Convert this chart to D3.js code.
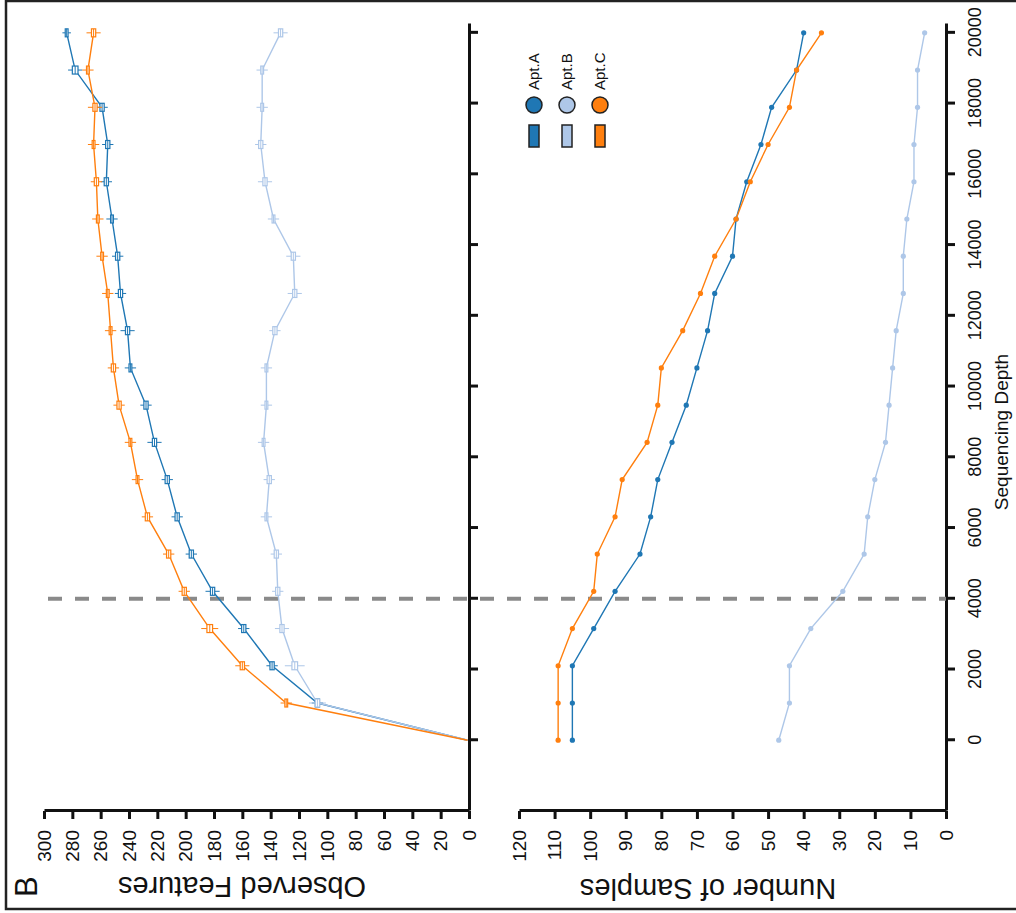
<!DOCTYPE html>
<html>
<head>
<meta charset="UTF-8">
<title>Rarefaction</title>
<script src="https://d3js.org/d3.v7.min.js"></script>
<style>
  body { margin: 0; background: #fff; }
  text { font-family: "Liberation Sans", Arial, sans-serif; fill: #111; }
</style>
</head>
<body>
<svg width="1016" height="913"></svg>
<script>
// sequencing depths (rarefaction steps)
var depths = [1, 1053, 2106, 3158, 4211, 5264, 6316, 7369, 8422, 9474, 10527,
              11580, 12632, 13685, 14737, 15790, 16843, 17895, 18948, 20000];
var groups = ['Apt.A', 'Apt.B', 'Apt.C'];
var colors = ['#1f77b4', '#aec7e8', '#ff7f0e'];

// observed features (median) per depth
var featA = [1, 107, 139, 159, 181, 196, 206, 213, 222, 228, 239, 241, 246, 248, 252, 256, 255, 259, 278, 284];
var featB = [1, 107, 123, 132, 135, 136, 143, 141, 145, 143, 143, 137, 123, 124, 138, 144, 147, 146, 146, 133];
var featC = [1, 129, 160, 183, 201, 212, 227, 234, 239, 247, 251, 253, 255, 259, 262, 263, 265, 264, 269, 265];
// box (IQR) and whisker spread of observed features
var iqrA = [0, 3, 3, 3, 3, 3, 3, 3, 3, 3, 2, 3, 3, 3, 2, 3, 3, 3, 4, 2];
var iqrB = [0, 3, 4, 3, 3, 3, 2, 3, 2, 2, 2, 3, 3, 3, 2, 3, 3, 2, 2, 3];
var iqrC = [0, 2, 3, 4, 3, 3, 3, 2, 2, 3, 3, 2, 2, 2, 2, 3, 2, 3, 2, 3];
var whiskA = [0, 4, 4, 4, 5, 4, 4, 4, 5, 4, 4, 5, 4, 4, 4, 4, 4, 4, 5, 3];
var whiskB = [0, 6, 7, 5, 4, 4, 4, 4, 4, 4, 4, 4, 5, 5, 4, 5, 4, 4, 4, 5];
var whiskC = [0, 4, 5, 6, 4, 4, 4, 4, 4, 4, 4, 4, 4, 4, 4, 4, 4, 5, 4, 5];

// number of samples retained per depth
var sampA = [105, 105, 105, 99, 93, 86, 83, 81, 77, 73, 70, 67, 65, 60, 59, 56, 52, 49, 42, 40];
var sampB = [47, 44, 44, 38, 29, 23, 22, 20, 17, 16, 15, 14, 12, 12, 11, 9, 9, 8, 8, 6];
var sampC = [109, 109, 109, 105, 99, 98, 93, 91, 84, 81, 80, 74, 69, 65, 59, 55, 50, 44, 42, 35];

var featTicks = d3.range(0, 301, 20);
var sampTicks = d3.range(0, 121, 10);
var depthTicks = d3.range(0, 20001, 2000);
var cutDepth = 4000;

var feats = [featA, featB, featC];
var iqrs = [iqrA, iqrB, iqrC];
var whisks = [whiskA, whiskB, whiskC];
var samps = [sampA, sampB, sampC];

var svg = d3.select('svg');

// outer frame
svg.append('rect').attr('x', 6).attr('y', 1).attr('width', 1030).attr('height', 908)
   .attr('fill', 'none').attr('stroke', '#222').attr('stroke-width', 2.5);

// the figure is drawn upright and then turned a quarter turn
var g = svg.append('g').attr('transform', 'translate(0,913) rotate(-90)');

var x = d3.scaleLinear().domain([-2000, 20250]).range([102, 889]);
var yF = d3.scaleLinear().domain([0, 300]).range([469, 44]);
var yS = d3.scaleLinear().domain([0, 120]).range([946, 519]);

function styleAxis(sel, fs) {
    sel.select('.domain').attr('stroke', '#111').attr('stroke-width', 3);
    sel.selectAll('.tick line').attr('stroke', '#111').attr('stroke-width', 3);
    sel.selectAll('.tick text').style('font-size', fs + 'px').attr('fill', '#111');
}

// top panel axes
g.append('g').attr('transform', 'translate(0,' + yF(0) + ')')
    .call(d3.axisBottom(x).tickValues(depthTicks).tickSize(9).tickSizeOuter(0).tickFormat(''))
    .call(styleAxis, 18);
g.append('g').attr('transform', 'translate(' + x(-2000) + ',0)')
    .call(d3.axisLeft(yF).tickValues(featTicks).tickSize(8).tickPadding(11).tickSizeOuter(0))
    .call(styleAxis, 19);

// bottom panel axes
g.append('g').attr('transform', 'translate(0,' + yS(0) + ')')
    .call(d3.axisBottom(x).tickValues(depthTicks).tickSize(9).tickPadding(13).tickSizeOuter(0)
        .tickFormat(d3.format('d')))
    .call(styleAxis, 18);
g.append('g').attr('transform', 'translate(' + x(-2000) + ',0)')
    .call(d3.axisLeft(yS).tickValues(sampTicks).tickSize(8).tickPadding(11).tickSizeOuter(0))
    .call(styleAxis, 19);

// axis titles
g.append('text').attr('transform', 'translate(36,242) rotate(-90)')
    .attr('text-anchor', 'middle').style('font-size', '29px').text('Observed Features');
g.append('text').attr('transform', 'translate(34,708) rotate(-90)')
    .attr('text-anchor', 'middle').style('font-size', '29px').text('Number of Samples');
g.append('text').attr('x', 481).attr('y', 1008)
    .attr('text-anchor', 'middle').style('font-size', '19px').text('Sequencing Depth');
g.append('text').attr('x', 16).attr('y', 37).style('font-size', '31px').text('B');

// cut-off depth
g.append('line').attr('x1', x(cutDepth)).attr('x2', x(cutDepth))
    .attr('y1', 48).attr('y2', yS(0))
    .attr('stroke', '#8a8a8a').attr('stroke-width', 4).attr('stroke-dasharray', '14,13');

var line = d3.line();

// observed features: lines with box markers
groups.forEach(function (name, k) {
    var col = colors[k];
    var pts = depths.map(function (d, i) { return [x(d), yF(feats[k][i])]; });
    g.append('path').attr('d', line(pts)).attr('fill', 'none')
        .attr('stroke', col).attr('stroke-width', 1.4);
    var m = g.append('g');
    depths.forEach(function (d, i) {
        if (i === 0) return;
        var v = feats[k][i], q = iqrs[k][i], w = whisks[k][i];
        m.append('line').attr('x1', x(d)).attr('x2', x(d))
            .attr('y1', yF(v - w)).attr('y2', yF(v + w))
            .attr('stroke', col).attr('stroke-width', 1);
        m.append('rect').attr('x', x(d) - 4).attr('width', 8)
            .attr('y', yF(v + q / 2)).attr('height', yF(v - q / 2) - yF(v + q / 2))
            .attr('fill', '#fff').attr('stroke', col).attr('stroke-width', 1.2);
        m.append('line').attr('x1', x(d) - 4).attr('x2', x(d) + 4)
            .attr('y1', yF(v)).attr('y2', yF(v))
            .attr('stroke', col).attr('stroke-width', 1);
    });
});

// number of samples: lines with dots
groups.forEach(function (name, k) {
    var col = colors[k];
    var pts = depths.map(function (d, i) { return [x(d), yS(samps[k][i])]; });
    g.append('path').attr('d', line(pts)).attr('fill', 'none')
        .attr('stroke', col).attr('stroke-width', 1.4);
    g.append('g').selectAll('circle').data(pts).join('circle')
        .attr('cx', function (p) { return p[0]; }).attr('cy', function (p) { return p[1]; })
        .attr('r', 2.6).attr('fill', col);
});

// legend
var legY = [534, 567, 600];
groups.forEach(function (name, k) {
    g.append('rect').attr('x', 766).attr('y', legY[k] - 5).attr('width', 22).attr('height', 10)
        .attr('fill', colors[k]).attr('stroke', '#222').attr('stroke-width', 1.5);
    g.append('circle').attr('cx', 808).attr('cy', legY[k]).attr('r', 8)
        .attr('fill', colors[k]).attr('stroke', '#222').attr('stroke-width', 1.5);
    g.append('text').attr('x', 823).attr('y', legY[k] + 5)
        .style('font-size', '15px').text(name);
});
</script>
</body>
</html>
